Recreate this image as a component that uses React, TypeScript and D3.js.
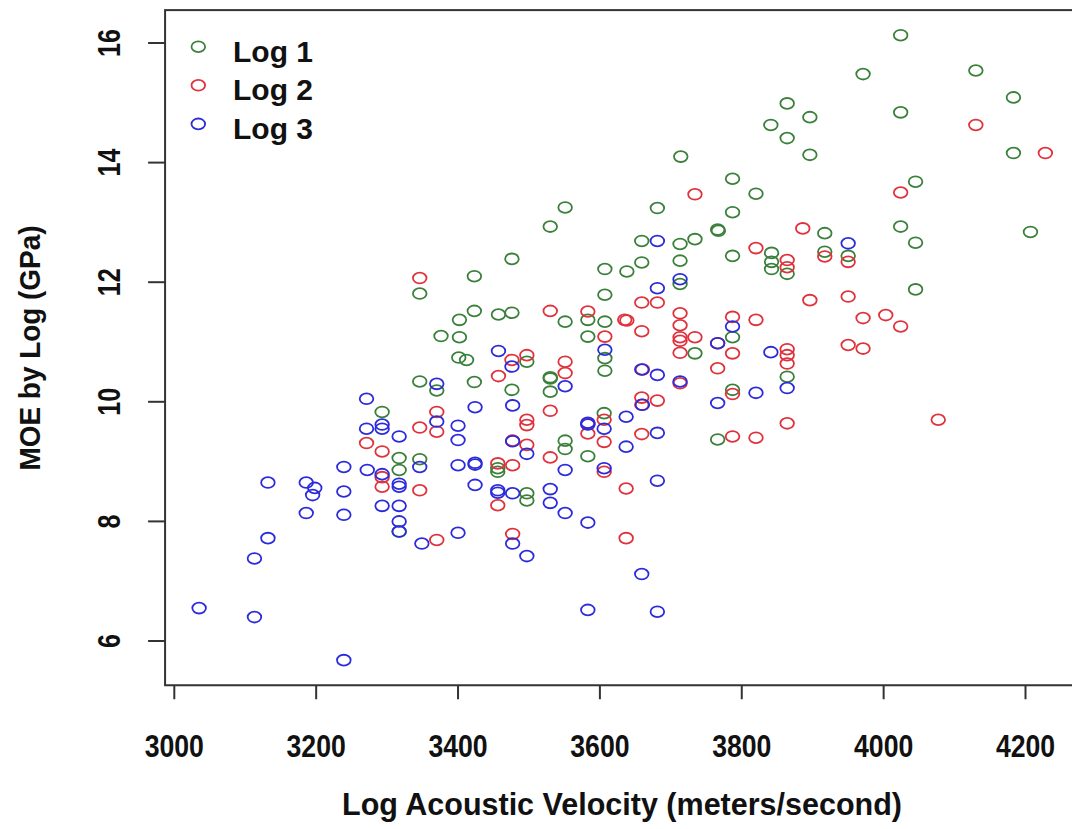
import * as d3 from "d3";

const seriesNames = ["Log 1", "Log 2", "Log 3"];
const seriesColors = ["#3a803a", "#e0323c", "#2b2bdc"];

const xTicks = [3000, 3200, 3400, 3600, 3800, 4000, 4200];
const yTicks = [6, 8, 10, 12, 14, 16];

// velocity (m/s), MOE (GPa)
const log1: [number, number][] = [
  [4024, 16.13], [3971, 15.48], [4130, 15.54], [4183, 15.09], [4024, 14.84], [4183, 14.16],
  [4045, 13.68], [4024, 12.93], [4045, 12.66], [4207, 12.84], [4045, 11.88], [3864, 14.99],
  [3896, 14.76], [3841, 14.63], [3864, 14.41], [3896, 14.13], [3714, 14.1], [3787, 13.73],
  [3820, 13.48], [3681, 13.24], [3787, 13.17], [3766, 12.88], [3767, 12.86], [3917, 12.82],
  [3659, 12.69], [3713, 12.64], [3734, 12.72], [3713, 12.36], [3842, 12.49], [3842, 12.34],
  [3842, 12.22], [3864, 12.14], [3787, 12.44], [3950, 12.44], [3917, 12.51], [3607, 12.22],
  [3638, 12.18], [3659, 12.33], [3713, 11.97], [3607, 11.79], [3583, 11.37], [3607, 11.34],
  [3583, 11.09], [3787, 11.08], [3734, 10.81], [3864, 10.42], [3607, 10.73], [3607, 10.52],
  [3787, 10.2], [3766, 9.37], [3551, 13.25], [3530, 12.93], [3476, 12.39], [3423, 12.1],
  [3346, 11.81], [3423, 11.52], [3402, 11.37], [3457, 11.46], [3476, 11.49], [3551, 11.34],
  [3376, 11.1], [3402, 11.08], [3401, 10.74], [3412, 10.7], [3497, 10.67], [3346, 10.34],
  [3370, 10.19], [3423, 10.33], [3476, 10.2], [3530, 10.39], [3530, 10.41], [3530, 10.17],
  [3293, 9.83], [3317, 9.06], [3346, 9.04], [3317, 8.86], [3317, 7.83], [3551, 9.35],
  [3551, 9.21], [3606, 9.81], [3583, 9.09], [3456, 8.89], [3456, 8.83], [3497, 8.47],
  [3497, 8.35],
];

const log2: [number, number][] = [
  [4130, 14.63], [4228, 14.16], [4024, 13.5], [3971, 11.4], [4003, 11.45], [4024, 11.26],
  [3971, 10.89], [3734, 13.47], [3886, 12.9], [3820, 12.57], [3864, 12.37], [3864, 12.25],
  [3917, 12.43], [3950, 12.34], [3659, 11.66], [3681, 11.66], [3896, 11.7], [3950, 11.76],
  [3583, 11.51], [3638, 11.36], [3635, 11.37], [3659, 11.18], [3713, 11.48], [3713, 11.28],
  [3787, 11.42], [3820, 11.37], [3607, 11.09], [3713, 11.08], [3713, 11.02], [3734, 11.08],
  [3713, 10.82], [3787, 10.81], [3864, 10.88], [3864, 10.78], [3864, 10.64], [3950, 10.95],
  [3766, 10.56], [3787, 10.13], [3659, 10.07], [3681, 10.02], [3659, 9.46], [3787, 9.42],
  [3820, 9.4], [3864, 9.64], [3637, 8.55], [4077, 9.7], [3346, 12.07], [3530, 11.52],
  [3476, 10.7], [3497, 10.78], [3551, 10.67], [3551, 10.48], [3457, 10.43], [3370, 9.83],
  [3346, 9.57], [3370, 9.5], [3271, 9.31], [3293, 9.17], [3293, 8.74], [3293, 8.58],
  [3346, 8.52], [3370, 7.69], [3530, 9.85], [3497, 9.7], [3497, 9.61], [3606, 9.7],
  [3583, 9.47], [3606, 9.33], [3497, 9.28], [3477, 9.35], [3456, 8.97], [3477, 8.94],
  [3530, 9.07], [3606, 8.83], [3456, 8.27], [3477, 7.79], [3637, 7.72], [3583, 9.63],
  [3713, 10.31], [3660, 10.54], [3659, 9.95], [3766, 10.98],
];

const log3: [number, number][] = [
  [3950, 12.65], [3681, 12.69], [3713, 12.05], [3681, 11.9], [3787, 11.26], [3841, 10.83],
  [3864, 10.23], [3607, 10.87], [3659, 10.54], [3681, 10.45], [3713, 10.34], [3820, 10.15],
  [3766, 9.98], [3766, 10.98], [3660, 9.95], [3637, 9.75], [3681, 9.48], [3637, 9.25],
  [3681, 8.68], [3457, 10.85], [3476, 10.59], [3551, 10.26], [3271, 10.05], [3370, 10.3],
  [3271, 9.55], [3293, 9.62], [3293, 9.55], [3317, 9.42], [3370, 9.67], [3400, 9.6],
  [3400, 9.36], [3346, 8.91], [3239, 8.91], [3272, 8.86], [3293, 8.79], [3317, 8.63],
  [3317, 8.58], [3400, 8.94], [3132, 8.65], [3186, 8.65], [3198, 8.56], [3195, 8.44],
  [3239, 8.5], [3293, 8.26], [3317, 8.26], [3186, 8.14], [3239, 8.11], [3317, 8.0],
  [3317, 7.83], [3349, 7.63], [3400, 7.81], [3132, 7.72], [3113, 7.38], [3035, 6.55],
  [3113, 6.4], [3239, 5.68], [3424, 9.91], [3477, 9.94], [3583, 9.65], [3583, 9.62],
  [3606, 9.55], [3477, 9.34], [3497, 9.13], [3424, 8.98], [3424, 8.95], [3551, 8.86],
  [3606, 8.89], [3424, 8.61], [3456, 8.52], [3456, 8.48], [3477, 8.47], [3530, 8.54],
  [3530, 8.31], [3551, 8.14], [3583, 7.98], [3477, 7.63], [3497, 7.42], [3659, 7.12],
  [3583, 6.52], [3681, 6.49],
];

const allSeries = [log1, log2, log3];

const W = 1072;
const H = 829;

export default function App() {
  const x = d3.scaleLinear().domain([3000, 4200]).range([174.3, 1025.5]);
  const y = d3.scaleLinear().domain([6, 16]).range([641, 43]);
  const xlim = [2987, 4290];
  const ylim = [5.26, 16.55];

  const left = x(xlim[0]);
  const right = x(xlim[1]);
  const top = y(ylim[1]);
  const bottom = y(ylim[0]);

  const sans = "'Liberation Sans', Arial, Helvetica, sans-serif";

  return (
    <svg
      width={W}
      height={H}
      style={{ position: "absolute", left: 0, top: 0, background: "#fff" }}
    >
      <rect x={0} y={0} width={W} height={H} fill="#fff" />

      {/* points */}
      {allSeries.map((pts, si) => (
        <g key={si} fill="none" stroke={seriesColors[si]} strokeWidth={1.8}>
          {pts.map((d, i) => (
            <ellipse key={i} cx={x(d[0])} cy={y(d[1])} rx={6.8} ry={5.4} />
          ))}
        </g>
      ))}

      {/* box */}
      <rect
        x={left}
        y={top}
        width={right - left}
        height={bottom - top}
        fill="none"
        stroke="#333"
        strokeWidth={2}
      />

      {/* x axis */}
      <g>
        {xTicks.map((t) => (
          <g key={t}>
            <line x1={x(t)} x2={x(t)} y1={bottom} y2={bottom + 14} stroke="#333" strokeWidth={2} />
            <text
              x={x(t)}
              y={757}
              textAnchor="middle"
              fontFamily={sans}
              fontWeight="bold"
              fontSize={32}
              fill="#111"
              textLength={String(t).length * 14.8}
              lengthAdjust="spacingAndGlyphs"
            >
              {t}
            </text>
          </g>
        ))}
      </g>

      {/* y axis */}
      <g>
        {yTicks.map((t) => (
          <g key={t}>
            <line x1={left - 17} x2={left} y1={y(t)} y2={y(t)} stroke="#333" strokeWidth={2} />
            <text
              transform={`translate(120,${y(t)}) rotate(-90)`}
              textAnchor="middle"
              fontFamily={sans}
              fontWeight="bold"
              fontSize={31}
              fill="#111"
              textLength={String(t).length * 14}
              lengthAdjust="spacingAndGlyphs"
            >
              {t}
            </text>
          </g>
        ))}
      </g>

      {/* axis titles */}
      <text
        x={622}
        y={815}
        textAnchor="middle"
        fontFamily={sans}
        fontWeight="bold"
        fontSize={32}
        fill="#111"
        textLength={560}
        lengthAdjust="spacingAndGlyphs"
      >
        Log Acoustic Velocity (meters/second)
      </text>
      <text
        transform="translate(40,348) rotate(-90)"
        textAnchor="middle"
        fontFamily={sans}
        fontWeight="bold"
        fontSize={30}
        fill="#111"
        textLength={245}
        lengthAdjust="spacingAndGlyphs"
      >
        MOE by Log (GPa)
      </text>

      {/* legend */}
      {seriesNames.map((name, i) => (
        <g key={name} transform={`translate(0,${i * 38.6})`}>
          <ellipse cx={198.3} cy={46.7} rx={6.8} ry={5.4} fill="none" stroke={seriesColors[i]} strokeWidth={1.8} />
          <text x={233} y={61.7} fontFamily={sans} fontWeight="bold" fontSize={30} fill="#111">
            {name}
          </text>
        </g>
      ))}
    </svg>
  );
}
